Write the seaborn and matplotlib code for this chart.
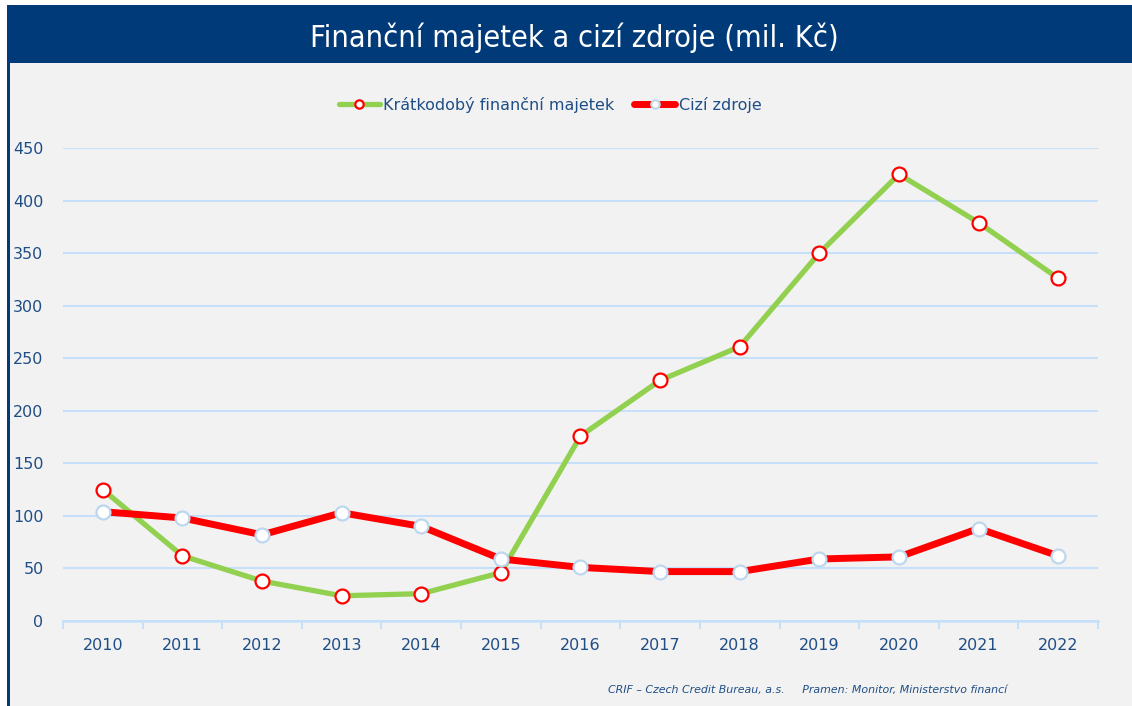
import numpy as np
import pandas as pd
import matplotlib
matplotlib.use('Agg')
import matplotlib.pyplot as plt
import seaborn as sns
from matplotlib.patches import Rectangle
from matplotlib.ticker import FixedLocator

# data
years = ['2010', '2011', '2012', '2013', '2014', '2015', '2016',
         '2017', '2018', '2019', '2020', '2021', '2022']
kratkodoby = [125, 62, 38, 24, 26, 46, 176, 229, 261, 350, 425, 379, 326]
cizi_zdroje = [104, 98, 82, 103, 90, 59, 51, 47, 47, 59, 61, 88, 62]
series_names = ['Krátkodobý finanční majetek', 'Cizí zdroje']

NAVY = '#003A78'
TEXT = '#1F4E86'
GRID = '#C6E0FA'
BG = '#F2F2F2'

sns.set_theme(style='white')
plt.rcParams['font.family'] = ['DejaVu Sans']

fig = plt.figure(figsize=(11.32, 7.06), dpi=100)
fig.patch.set_facecolor('white')

# panel background, header band and left border
fig.patches.append(Rectangle((8 / 1132, 0), 1 - 8 / 1132, 1 - 5 / 706,
                             transform=fig.transFigure, facecolor=BG,
                             edgecolor='none', zorder=-3))
fig.patches.append(Rectangle((8 / 1132, 1 - 63 / 706), 1 - 8 / 1132, 58 / 706,
                             transform=fig.transFigure, facecolor=NAVY,
                             edgecolor='none', zorder=-2))
fig.patches.append(Rectangle((7 / 1132, 0), 2.5 / 1132, 1 - 5 / 706,
                             transform=fig.transFigure, facecolor=NAVY,
                             edgecolor='none', zorder=-1))

fig.text(574 / 1132, 1 - 38 / 706, 'Finanční majetek a cizí zdroje (mil. Kč)',
         ha='center', va='center', color='white', fontsize=22,
         fontstretch='condensed', fontweight='light')

ax = fig.add_axes([63 / 1132, 1 - 621 / 706, (1098 - 63) / 1132, (621 - 148) / 706])
ax.set_facecolor(BG)

df = pd.DataFrame({'rok': years, 'Krátkodobý': kratkodoby, 'Cizí': cizi_zdroje})

sns.lineplot(data=df, x='rok', y='Krátkodobý', ax=ax, color='#92D050',
             linewidth=3.8, marker='o', markersize=10, markerfacecolor='white',
             markeredgecolor='#FF0000', markeredgewidth=1.6,
             label=series_names[0], clip_on=False, zorder=3)
sns.lineplot(data=df, x='rok', y='Cizí', ax=ax, color='#FF0000',
             linewidth=5, marker='o', markersize=10, markerfacecolor='white',
             markeredgecolor='#BDD7EE', markeredgewidth=1.6,
             label=series_names[1], clip_on=False, zorder=4)

ax.set_xlim(-0.5, len(years) - 0.5)
ax.set_ylim(0, 450)
ax.set_yticks(np.arange(0, 451, 50))
ax.yaxis.grid(True, color=GRID, linewidth=1.5)
ax.set_axisbelow(True)
ax.set_xlabel('')
ax.set_ylabel('')
for s in ['top', 'right', 'left']:
    ax.spines[s].set_visible(False)
ax.spines['bottom'].set_color(GRID)
ax.spines['bottom'].set_linewidth(1.8)

ax.xaxis.set_minor_locator(FixedLocator(np.arange(-0.5, len(years), 1)))
ax.tick_params(axis='x', which='major', length=0, pad=12, labelsize=11.5, labelcolor=TEXT)
ax.tick_params(axis='x', which='minor', length=6, width=1.5, color=GRID, bottom=True)
ax.tick_params(axis='y', length=0, pad=14, labelsize=11.5, labelcolor=TEXT)

leg = ax.legend(loc='center', bbox_to_anchor=(550 / 1132, 1 - 105 / 706),
                bbox_transform=fig.transFigure, ncol=2, frameon=False,
                fontsize=11.5, handlelength=2.6, handletextpad=0.2,
                columnspacing=1.2)
for t in leg.get_texts():
    t.set_color(TEXT)
for h in leg.legend_handles:
    h.set_markersize(6)

fig.text(808 / 1132, 1 - 690 / 706,
         'CRIF – Czech Credit Bureau, a.s.     Pramen: Monitor, Ministerstvo financí',
         ha='center', va='center', color=TEXT, fontsize=7.9, style='italic')

fig.savefig('out.png', dpi=100, facecolor=fig.get_facecolor())
